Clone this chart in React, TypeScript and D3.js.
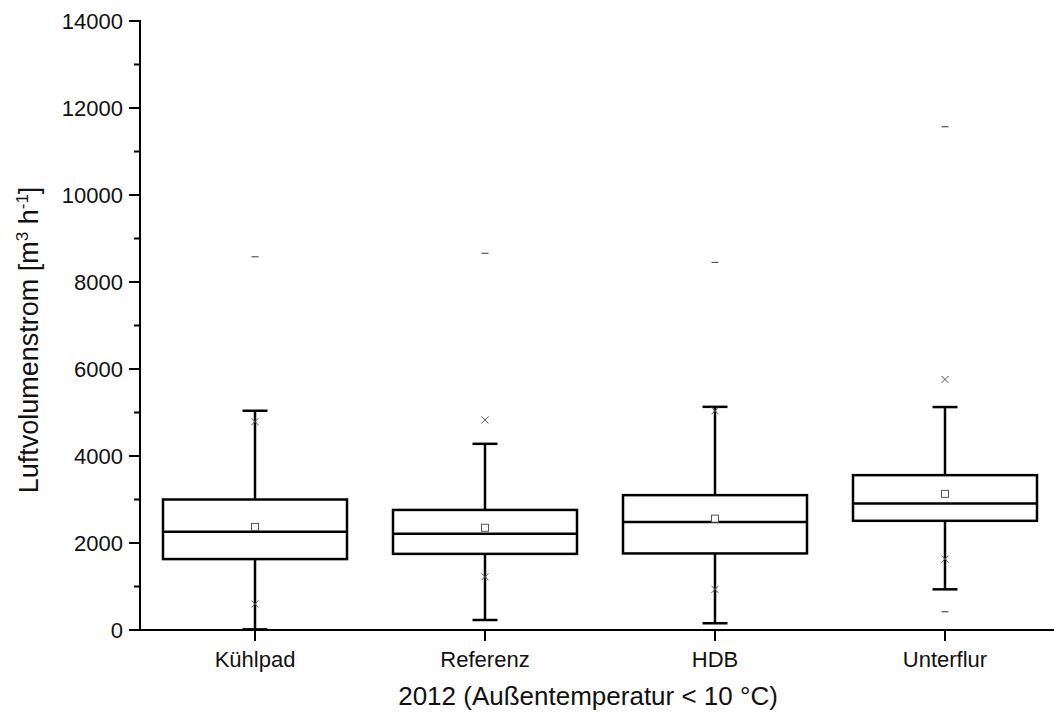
import React from "react";
import * as d3 from "d3";

const categories = ["Kühlpad", "Referenz", "HDB", "Unterflur"];
const q1 = [1630, 1750, 1760, 2510];
const median = [2260, 2210, 2480, 2910];
const q3 = [3000, 2760, 3100, 3560];
const mean = [2370, 2350, 2560, 3130];
const whiskerLow = [15, 230, 155, 935];
const whiskerHigh = [5040, 4280, 5130, 5125];
const p1 = [600, 1225, 935, 1630];
const p99 = [4790, 4830, 5040, 5760];
const minVals = [0, 0, 0, 420];
const maxVals = [8580, 8660, 8450, 11570];
const yMajorTicks = [0, 2000, 4000, 6000, 8000, 10000, 12000, 14000];
const yMinorTicks = [1000, 3000, 5000, 7000, 9000, 11000, 13000];
const xTitle = "2012 (Außentemperatur < 10 °C)";

const W = 1054;
const H = 712;
const left = 140;
const bottom = 630;
const top = 21;

export default function App() {
  const y = d3.scaleLinear().domain([0, 14000]).range([bottom, top]);
  const x = d3.scaleBand<string>().domain(categories).range([left, left + 920]).padding(0);
  const bw = x.bandwidth() * 0.8;
  const cap = 25;
  const font = "'Liberation Sans', Arial, sans-serif";
  const gray = "#555";

  return (
    <svg width={W} height={H} style={{ position: "absolute", left: 0, top: 0, background: "#fff" }}>
      {/* boxes */}
      {categories.map((c, i) => {
        const cx = x(c)! + x.bandwidth() / 2;
        const mk = 3.5;
        return (
          <g key={c}>
            <line x1={cx} x2={cx} y1={y(q3[i])} y2={y(whiskerHigh[i])} stroke="#000" strokeWidth={2.5} />
            <line x1={cx} x2={cx} y1={y(q1[i])} y2={y(whiskerLow[i])} stroke="#000" strokeWidth={2.5} />
            <line x1={cx - cap / 2} x2={cx + cap / 2} y1={y(whiskerHigh[i])} y2={y(whiskerHigh[i])} stroke="#000" strokeWidth={2.5} />
            <line x1={cx - cap / 2} x2={cx + cap / 2} y1={y(whiskerLow[i])} y2={y(whiskerLow[i])} stroke="#000" strokeWidth={2.5} />
            <rect x={cx - bw / 2} y={y(q3[i])} width={bw} height={y(q1[i]) - y(q3[i])} fill="none" stroke="#000" strokeWidth={2.5} />
            <line x1={cx - bw / 2} x2={cx + bw / 2} y1={y(median[i])} y2={y(median[i])} stroke="#000" strokeWidth={2.5} />
            <rect x={cx - 3.5} y={y(mean[i]) - 3.5} width={7} height={7} fill="#fff" stroke={gray} strokeWidth={1} />
            {[p1[i], p99[i]].map((v, k) => (
              <g key={k} stroke={gray} strokeWidth={1}>
                <line x1={cx - mk} x2={cx + mk} y1={y(v) - mk} y2={y(v) + mk} />
                <line x1={cx - mk} x2={cx + mk} y1={y(v) + mk} y2={y(v) - mk} />
              </g>
            ))}
            {[minVals[i], maxVals[i]].map((v, k) => (
              <line key={k} x1={cx - 3.5} x2={cx + 3.5} y1={y(v)} y2={y(v)} stroke={gray} strokeWidth={1.2} />
            ))}
          </g>
        );
      })}

      {/* y axis */}
      <line x1={left} x2={left} y1={top - 1} y2={bottom + 1} stroke="#000" strokeWidth={2} />
      {yMajorTicks.map((t) => (
        <g key={t}>
          <line x1={left - 11} x2={left} y1={y(t)} y2={y(t)} stroke="#000" strokeWidth={2} />
          <text x={left - 17} y={y(t)} dy="0.36em" textAnchor="end" fontFamily={font} fontSize={22} fill="#111">
            {t}
          </text>
        </g>
      ))}
      {yMinorTicks.map((t) => (
        <line key={t} x1={left - 6} x2={left} y1={y(t)} y2={y(t)} stroke="#000" strokeWidth={2} />
      ))}

      {/* x axis */}
      <line x1={left - 1} x2={W} y1={bottom} y2={bottom} stroke="#000" strokeWidth={2} />
      {categories.map((c) => {
        const cx = x(c)! + x.bandwidth() / 2;
        return (
          <g key={c}>
            <line x1={cx} x2={cx} y1={bottom} y2={bottom + 11} stroke="#000" strokeWidth={2} />
            <text x={cx} y={667} textAnchor="middle" fontFamily={font} fontSize={22} fill="#111">
              {c}
            </text>
          </g>
        );
      })}

      {/* titles */}
      <text x={588} y={705} textAnchor="middle" fontFamily={font} fontSize={26} fill="#111">
        {xTitle}
      </text>
      <text transform={`translate(38, 340) rotate(-90)`} textAnchor="middle" fontFamily={font} fontSize={27} fill="#111">
        Luftvolumenstrom [m
        <tspan fontSize={17} dy={-10}>3</tspan>
        <tspan dy={10}> h</tspan>
        <tspan fontSize={17} dy={-10}>-1</tspan>
        <tspan dy={10}>]</tspan>
      </text>
    </svg>
  );
}
